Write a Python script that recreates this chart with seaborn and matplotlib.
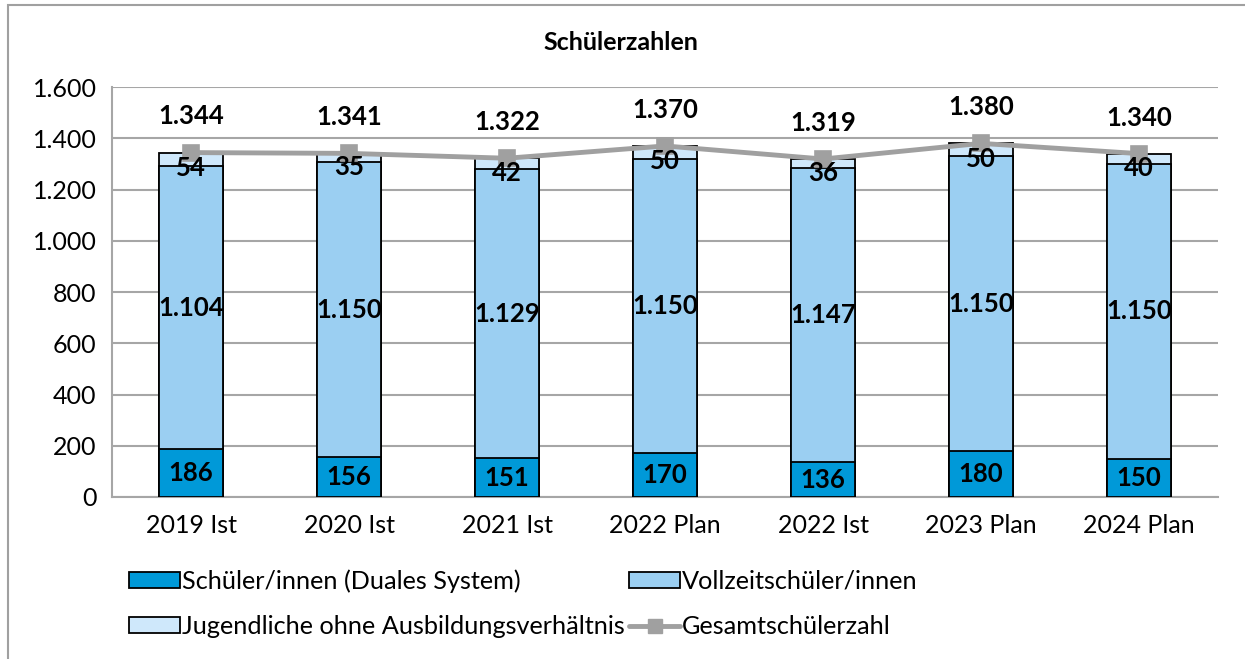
import seaborn as sns
import pandas as pd
import numpy as np
import matplotlib
matplotlib.use('Agg')
import matplotlib.pyplot as plt
from matplotlib.patches import Patch, Rectangle
from matplotlib.lines import Line2D

categories = ['2019 Ist', '2020 Ist', '2021 Ist', '2022 Plan', '2022 Ist', '2023 Plan', '2024 Plan']
duales = [186, 156, 151, 170, 136, 180, 150]
vollzeit = [1104, 1150, 1129, 1150, 1147, 1150, 1150]
jugendliche = [54, 35, 42, 50, 36, 50, 40]
gesamt = [1344, 1341, 1322, 1370, 1319, 1380, 1340]

c_dual = '#0099D8'
c_voll = '#9BCFF2'
c_jug = '#CFE8FB'
c_line = '#A0A0A0'
c_grid = '#A6A6A6'

FS = 18


def fmt(v):
    return f"{v:,}".replace(',', '.')


sns.set_style('white')
plt.rcParams['font.family'] = ['Lato', 'DejaVu Sans']
plt.rcParams['text.color'] = 'black'
plt.rcParams['xtick.color'] = 'black'
plt.rcParams['ytick.color'] = 'black'

df = pd.DataFrame({
    'cat': categories,
    'dual': duales,
    'voll': vollzeit,
    'jug': jugendliche,
    'ges': gesamt,
})
df['top'] = df.dual + df.voll + df.jug
df['mid'] = df.dual + df.voll

fig = plt.figure(figsize=(12.45, 6.59), dpi=100)
ax = fig.add_axes([112 / 1245, 1 - 497 / 659, 1106 / 1245, 410 / 659])

# stacked bars drawn as cumulative layers, back to front
for col, color in [('top', c_jug), ('mid', c_voll), ('dual', c_dual)]:
    sns.barplot(data=df, x='cat', y=col, color=color, width=0.4,
                edgecolor='black', linewidth=1.3, saturation=1, ax=ax, zorder=3)

sns.pointplot(data=df, x='cat', y='ges', color=c_line, markers='s',
              linestyles='-', ax=ax, zorder=5,
              markersize=10.5, linewidth=3.5)

for i in range(len(categories)):
    ax.text(i, duales[i] / 2, str(duales[i]), ha='center', va='center',
            fontsize=18.5, fontweight='bold', zorder=6)
    ax.text(i, duales[i] + vollzeit[i] / 2, fmt(vollzeit[i]), ha='center', va='center',
            fontsize=18.5, fontweight='bold', zorder=6)
    ax.text(i, duales[i] + vollzeit[i] + jugendliche[i] / 2 - 35, str(jugendliche[i]),
            ha='center', va='center', fontsize=18.5, fontweight='bold', zorder=6)
    ax.annotate(fmt(gesamt[i]), (i, gesamt[i]), xytext=(0, 26), textcoords='offset points',
                ha='center', va='center', fontsize=18.5, fontweight='bold', zorder=6)

ax.set_ylim(0, 1600)
ax.set_xlim(-0.5, len(categories) - 0.5)
ax.set_yticks(np.arange(0, 1601, 200))
ax.set_yticklabels([fmt(v) for v in range(0, 1601, 200)], fontsize=FS)
ax.set_xticklabels(categories, fontsize=FS)
ax.set_xlabel('')
ax.set_ylabel('')
ax.yaxis.grid(True, color=c_grid, linewidth=1.5, zorder=0)
ax.set_axisbelow(True)
for s in ['top', 'right']:
    ax.spines[s].set_visible(False)
for s in ['left', 'bottom']:
    ax.spines[s].set_color(c_grid)
    ax.spines[s].set_linewidth(1.5)
ax.tick_params(axis='x', length=0, pad=12)
ax.set_xticks(np.arange(-0.5, len(categories)), minor=True)
ax.tick_params(axis='x', which='minor', length=8, width=1.5, color=c_grid)
ax.tick_params(axis='y', length=8, width=1.5, color=c_grid, labelcolor='black', pad=3)

fig.text(621 / 1245, 1 - 42 / 659, 'Schülerzahlen', ha='center', va='center',
         fontsize=18, fontweight='bold')

handles = [
    Patch(facecolor=c_dual, edgecolor='black', linewidth=1.3, label='Schüler/innen (Duales System)'),
    Patch(facecolor=c_jug, edgecolor='black', linewidth=1.3, label='Jugendliche ohne Ausbildungsverhältnis'),
    Patch(facecolor=c_voll, edgecolor='black', linewidth=1.3, label='Vollzeitschüler/innen'),
    Line2D([0], [0], color=c_line, linewidth=3.5, marker='s', markersize=10.5, label='Gesamtschülerzahl'),
]
fig.legend(handles=handles, loc='upper left', bbox_to_anchor=(129 / 1245, 1 - 569 / 659),
           ncol=2, frameon=False, fontsize=18.2, handlelength=2.0, handleheight=0.6,
           handletextpad=0.08, columnspacing=0.2, labelspacing=0.9, borderaxespad=0,
           borderpad=0)

fig.patches.append(Rectangle((8 / 1245, -0.01), 1.1, 1 - 5 / 659 + 0.01, transform=fig.transFigure,
                             fill=False, edgecolor=c_line, linewidth=1.5))

fig.savefig('out.png', dpi=100)
